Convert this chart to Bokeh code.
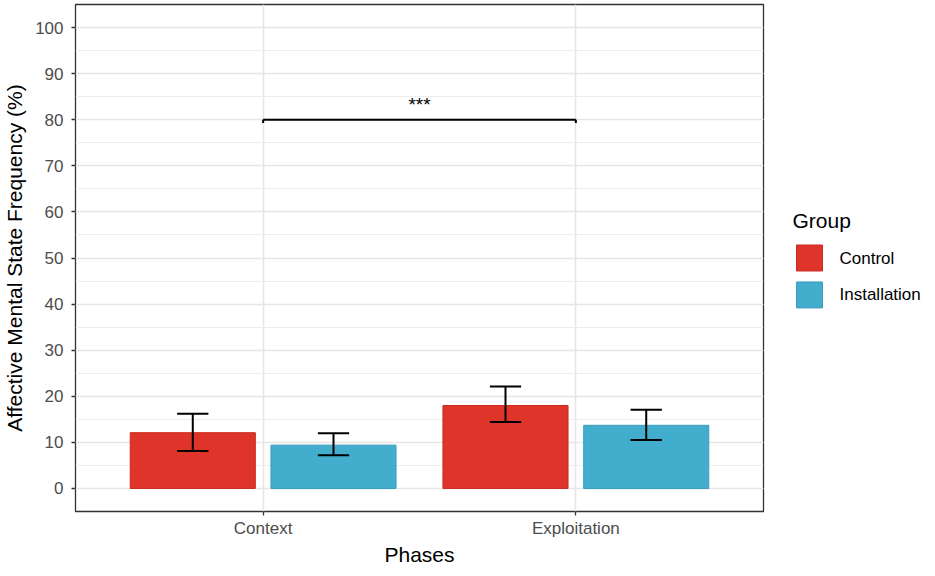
from bokeh.plotting import figure
from bokeh.models import ColumnDataSource, FactorRange, Range1d, SingleIntervalTicker
from bokeh.layouts import row
from bokeh.transform import dodge
from bokeh.core.properties import value
from bokeh.embed import file_html
from bokeh.resources import INLINE

# ---- data ----
phases = ["Context", "Exploitation"]
groups = ["Control", "Installation"]
control_mean = [12.1, 18.0]
control_lo = [8.1, 14.4]
control_hi = [16.2, 22.1]
install_mean = [9.4, 13.7]
install_lo = [7.2, 10.5]
install_hi = [12.0, 17.1]
sig_label = "***"
sig_y = 80
legend_title = "Group"

FONT = "Liberation Sans"
RED = "#DF3429"
BLUE = "#43ADCD"
colors = [RED, BLUE]
edges = ["#C92A20", "#3A9DBB"]

W_MAIN = 771
H = 568
TOP = 4
BOTTOM_BORDER = 45

p = figure(x_range=FactorRange(factors=phases, range_padding=0.1, range_padding_units="absolute"),
           y_range=Range1d(-5, 105),
           width=W_MAIN, height=H, output_backend="svg", toolbar_location=None,
           min_border_left=75, min_border_right=8, min_border_top=TOP,
           min_border_bottom=BOTTOM_BORDER)

src_c = ColumnDataSource(dict(phase=phases, mean=control_mean, lo=control_lo, hi=control_hi))
src_i = ColumnDataSource(dict(phase=phases, mean=install_mean, lo=install_lo, hi=install_hi))

off = 0.225
bw = 0.4
cap = 0.05
p.vbar(x=dodge("phase", -off, range=p.x_range), top="mean", bottom=0, width=bw,
       source=src_c, fill_color=colors[0], line_color=edges[0], line_width=1)
p.vbar(x=dodge("phase", off, range=p.x_range), top="mean", bottom=0, width=bw,
       source=src_i, fill_color=colors[1], line_color=edges[1], line_width=1)

for src, o in ((src_c, -off), (src_i, off)):
    p.segment(x0=dodge("phase", o, range=p.x_range), x1=dodge("phase", o, range=p.x_range),
              y0="lo", y1="hi", source=src, line_color="black", line_width=2)
    p.segment(x0=dodge("phase", o - cap, range=p.x_range), x1=dodge("phase", o + cap, range=p.x_range),
              y0="lo", y1="lo", source=src, line_color="black", line_width=2)
    p.segment(x0=dodge("phase", o - cap, range=p.x_range), x1=dodge("phase", o + cap, range=p.x_range),
              y0="hi", y1="hi", source=src, line_color="black", line_width=2)

# significance bracket
br = ColumnDataSource(dict(x0=[phases[0]], x1=[phases[1]], y=[sig_y], yb=[sig_y - 0.7],
                           t=[sig_label], xm=[phases[0]], yt=[sig_y + 3.2]))
p.segment(x0="x0", x1="x1", y0="y", y1="y", source=br, line_color="black", line_width=2)
p.segment(x0="x0", x1="x0", y0="y", y1="yb", source=br, line_color="black", line_width=2)
p.segment(x0="x1", x1="x1", y0="y", y1="yb", source=br, line_color="black", line_width=2)
p.text(x=dodge("xm", 0.5, range=p.x_range), y="yt", text="t", source=br,
       text_font=value(FONT), text_font_size="19px", text_color="black",
       text_align="center", text_baseline="middle")

# axes
p.yaxis.ticker = SingleIntervalTicker(interval=10, num_minor_ticks=2)
for ax in (p.xaxis[0], p.yaxis[0]):
    ax.axis_line_color = None
    ax.major_tick_line_color = "#333333"
    ax.major_tick_line_width = 1.3
    ax.major_tick_out = 4
    ax.major_tick_in = 0
    ax.minor_tick_line_color = None
    ax.major_label_text_font = FONT
    ax.major_label_text_font_size = "17px"
    ax.major_label_text_color = "#4D4D4D"
    ax.axis_label_text_font = FONT
    ax.axis_label_text_font_size = "21px"
    ax.axis_label_text_font_style = "normal"
    ax.axis_label_text_color = "black"
p.xaxis.axis_label = "Phases"
p.yaxis.axis_label = "Affective Mental State Frequency (%)"
p.xaxis.major_label_standoff = 3
p.xaxis.axis_label_standoff = 2
p.yaxis.major_label_standoff = 8
p.yaxis.axis_label_standoff = 6

# grid
p.ygrid.grid_line_color = "#E6E6E6"
p.ygrid.grid_line_width = 1.6
p.ygrid.minor_grid_line_color = "#EDEDED"
p.ygrid.minor_grid_line_width = 1
p.xgrid.grid_line_color = "#E6E6E6"
p.xgrid.grid_line_width = 1.6

p.outline_line_color = "#333333"
p.outline_line_width = 1.3
p.background_fill_color = "white"
p.border_fill_color = "white"

# ---- legend panel: its frame is aligned with the main frame in the row ----
W_LEG = 927 - W_MAIN
frame_bottom = H - 56  # approx. bottom of main frame
lg = figure(width=W_LEG, height=H, output_backend="svg", toolbar_location=None,
            x_range=Range1d(W_MAIN, 927), y_range=Range1d(frame_bottom, TOP),
            x_axis_location=None, y_axis_location=None,
            min_border=0, outline_line_color=None)
lg.grid.visible = False
lg.background_fill_color = "white"
lg.border_fill_color = "white"

key_left = 796
key_size = 26
key_tops = [245 + i * 37 for i in range(len(groups))]
lsrc = ColumnDataSource(dict(
    left=[key_left] * len(groups),
    right=[key_left + key_size] * len(groups),
    top=key_tops,
    bottom=[t + key_size for t in key_tops],
    lx=[key_left + key_size + 17] * len(groups),
    ly=[t + key_size / 2 for t in key_tops],
    label=groups, color=colors, edge=edges))
lg.quad(left="left", right="right", top="top", bottom="bottom", source=lsrc,
        fill_color="color", line_color="edge", line_width=1)
lg.text(x="lx", y="ly", text="label", source=lsrc, text_font=value(FONT),
        text_font_size="17px", text_color="black", text_baseline="middle", text_align="left")
lg.text(x=[792], y=[220], text=[legend_title], text_font=value(FONT),
        text_font_size="21px", text_color="black", text_baseline="middle", text_align="left")

layout = row(p, lg, spacing=0)
open("out.html", "w").write(file_html(layout, INLINE))
